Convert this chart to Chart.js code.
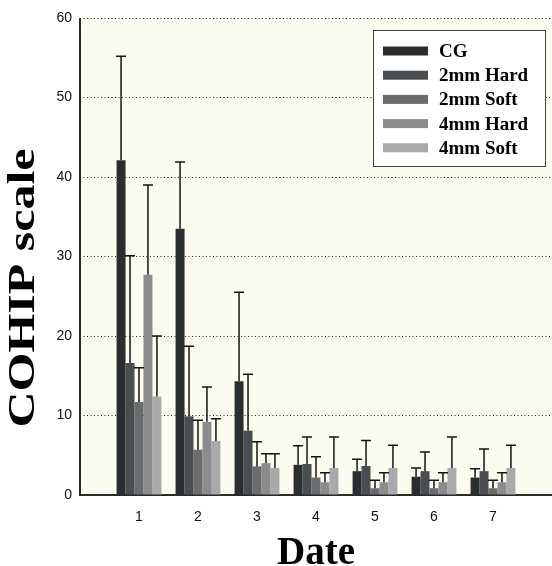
<!DOCTYPE html>
<html>
<head>
<meta charset="utf-8">
<script src="https://cdn.jsdelivr.net/npm/chart.js@4"></script>
<style>
  body { margin: 0; background: #fff; }
  #wrap { width: 552px; height: 566px; position: relative; }
</style>
</head>
<body>
<div id="wrap"><canvas id="cohipChart"></canvas></div>
<script>
var dates = ['1', '2', '3', '4', '5', '6', '7'];
var groupNames = ['CG', '2mm Hard', '2mm Soft', '4mm Hard', '4mm Soft'];
var barColors = ['#2a2e30', '#4a4e50', '#6a6c6e', '#8a8c8d', '#a7a9aa'];

// means
var cg    = [42.1, 33.5, 14.3, 3.8, 3.0, 2.3, 2.2];
var hard2 = [16.6, 9.9, 8.1, 3.9, 3.65, 3.0, 3.0];
var soft2 = [11.7, 5.7, 3.6, 2.2, 0.85, 0.85, 0.85];
var hard4 = [27.7, 9.2, 4.0, 1.6, 1.6, 1.6, 1.6];
var soft4 = [12.4, 6.8, 3.4, 3.4, 3.4, 3.4, 3.4];

// standard deviations (upper error bars only)
var cgSd    = [13.1, 8.4, 11.2, 2.4, 1.5, 1.1, 1.1];
var hard2Sd = [13.5, 8.8, 7.1, 3.4, 3.2, 2.4, 2.8];
var soft2Sd = [4.3, 3.7, 3.1, 2.6, 1.0, 1.0, 1.0];
var hard4Sd = [11.3, 4.4, 1.2, 1.2, 1.2, 1.2, 1.2];
var soft4Sd = [7.6, 2.8, 1.8, 3.9, 2.85, 3.9, 2.85];

var yTicks = [0, 10, 20, 30, 40, 50, 60];

var means = [cg, hard2, soft2, hard4, soft4];
var sds = [cgSd, hard2Sd, soft2Sd, hard4Sd, soft4Sd];

// empty slot on each side so that "1" sits one step from the y axis
var labels = [''].concat(dates, ['']);
function pad(arr) { return [null].concat(arr, [null]); }

var datasets = groupNames.map(function (name, i) {
    return {
        label: name,
        data: pad(means[i]),
        sd: pad(sds[i]),
        backgroundColor: barColors[i],
        borderWidth: 0,
        categoryPercentage: 0.76,
        barPercentage: 1.0
    };
});

var plotBackground = {
    id: 'plotBackground',
    beforeDraw: function (chart) {
        var a = chart.chartArea, ctx = chart.ctx;
        ctx.save();
        ctx.fillStyle = '#fbfbef';
        ctx.fillRect(a.left, a.top, a.right - a.left, a.bottom - a.top);
        ctx.restore();
    },
    afterDatasetsDraw: function (chart) {
        // solid y axis line (grid dash would otherwise apply)
        var a = chart.chartArea, ctx = chart.ctx;
        ctx.save();
        ctx.strokeStyle = '#2a2a2a';
        ctx.lineWidth = 2;
        ctx.beginPath();
        ctx.moveTo(a.left, a.top);
        ctx.lineTo(a.left, a.bottom);
        ctx.stroke();
        ctx.restore();
    }
};

var errorBars = {
    id: 'errorBars',
    afterDatasetsDraw: function (chart) {
        var ctx = chart.ctx, y = chart.scales.y;
        ctx.save();
        ctx.strokeStyle = '#151515';
        ctx.lineWidth = 1.5;
        chart.data.datasets.forEach(function (ds, i) {
            var meta = chart.getDatasetMeta(i);
            meta.data.forEach(function (bar, j) {
                if (ds.data[j] == null) return;
                var top = y.getPixelForValue(ds.data[j] + ds.sd[j]);
                ctx.beginPath();
                ctx.moveTo(bar.x, bar.y);
                ctx.lineTo(bar.x, top);
                ctx.moveTo(bar.x - 5, top);
                ctx.lineTo(bar.x + 5, top);
                ctx.stroke();
            });
        });
        ctx.restore();
    }
};

var legendBox = {
    id: 'legendBox',
    afterDraw: function (chart) {
        var ctx = chart.ctx;
        ctx.save();
        ctx.fillStyle = '#ffffff';
        ctx.fillRect(373, 30, 173, 137);
        ctx.strokeStyle = '#444';
        ctx.lineWidth = 1;
        ctx.strokeRect(373.5, 30.5, 172, 136);
        ctx.font = 'bold 19px "Liberation Serif", "Times New Roman", serif';
        ctx.textBaseline = 'middle';
        chart.data.datasets.forEach(function (ds, i) {
            var cy = 51 + i * 24.2;
            ctx.fillStyle = ds.backgroundColor;
            ctx.fillRect(383, cy - 4.5, 45, 9);
            ctx.fillStyle = '#000';
            ctx.fillText(ds.label, 439, cy + 1);
        });
        ctx.restore();
    }
};

var axisTitles = {
    id: 'axisTitles',
    afterDraw: function (chart) {
        var ctx = chart.ctx;
        ctx.save();
        ctx.fillStyle = '#000';
        ctx.font = 'bold 38px "Liberation Serif", "Times New Roman", serif';
        ctx.textAlign = 'center';
        ctx.textBaseline = 'middle';
        var txt = 'COHIP scale';
        var w = ctx.measureText(txt).width;
        ctx.translate(24, 288);
        ctx.rotate(-Math.PI / 2);
        ctx.scale(279 / w, 1);
        ctx.fillText(txt, 0, 0);
        ctx.restore();

        ctx.save();
        ctx.fillStyle = '#000';
        ctx.font = 'bold 39px "Liberation Serif", "Times New Roman", serif';
        ctx.textAlign = 'center';
        ctx.textBaseline = 'alphabetic';
        ctx.fillText('Date', 316, 564);
        ctx.restore();
    }
};

new Chart('cohipChart', {
    type: 'bar',
    data: { labels: labels, datasets: datasets },
    plugins: [plotBackground, errorBars, legendBox, axisTitles],
    options: {
        responsive: true,
        maintainAspectRatio: false,
        animation: false,
        layout: { padding: { top: 18, right: 0, left: 0, bottom: 0 } },
        plugins: {
            legend: { display: false },
            tooltip: { enabled: false }
        },
        scales: {
            x: {
                offset: false,
                grid: { display: false },
                border: { display: true, color: '#2a2a2a', width: 2 },
                ticks: {
                    color: '#111',
                    padding: 6,
                    maxRotation: 0,
                    autoSkip: false,
                    font: { family: '"Liberation Sans", Arial, sans-serif', size: 14 }
                },
                afterFit: function (scale) {
                    scale.height = 71;
                    scale.paddingLeft = 0;
                    scale.paddingRight = 0;
                }
            },
            y: {
                min: 0,
                max: 60,
                afterBuildTicks: function (scale) {
                    scale.ticks = yTicks.map(function (v) { return { value: v }; });
                },
                grid: {
                    color: function (c) { return c.tick && c.tick.value === 0 ? 'rgba(0,0,0,0)' : '#222'; },
                    lineWidth: 1,
                    drawTicks: false
                },
                border: { display: false, dash: [1, 2.5] },
                ticks: {
                    color: '#111',
                    padding: 8,
                    font: { family: '"Liberation Sans", Arial, sans-serif', size: 14 }
                },
                afterFit: function (scale) { scale.width = 80; }
            }
        }
    }
});
</script>
</body>
</html>
